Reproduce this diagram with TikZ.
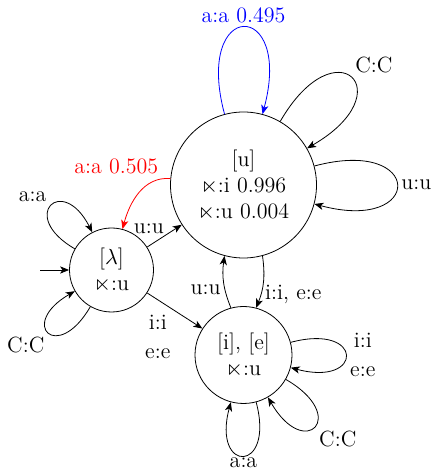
\documentclass[tikz,border=0pt]{standalone}
\usepackage{amsmath,amssymb}
\usetikzlibrary{arrows.meta,positioning}

\begin{document}
\begin{tikzpicture}[
    on grid,
    estado/.style={draw, circle, align=center, inner sep=0pt, font=\fontsize{11}{13}\selectfont},
    rotulo/.style={align=center, inner sep=2pt, font=\fontsize{11}{12.5}\selectfont},
    seta/.style={-{Stealth[length=4.5pt, width=3.6pt, inset=1.2pt]}},
    laco/.style={seta, distance=#1}
  ]
    \useasboundingbox (-55.75pt,135pt) rectangle (162.75pt,-102pt);

    \node[estado, minimum size=42pt] (lambda) {[$\lambda$]\\$\ltimes$:u};
    \node[estado, minimum size=73pt, above right=42.5pt and 66pt of lambda] (u) {[u]\\$\ltimes$:i 0.996\\$\ltimes$:u 0.004};
    \node[estado, minimum size=48.5pt, below=85pt of u] (ie) {[i], [e]\\$\ltimes$:u};
    \coordinate[left=35.75pt of lambda] (inicio);

    \draw[seta] (inicio) -- (lambda);
    \draw[laco=33pt] (lambda) to[out=150, in=117] node[rotulo, above left] {a:a} (lambda);
    \draw[laco=33pt] (lambda) to[out=240, in=210] node[rotulo, below left] {C:C} (lambda);
    \draw[seta] (lambda) -- node[rotulo, pos=0.05, above=4pt] {u:u} (u);
    \draw[seta] (lambda) -- node[rotulo, below left] {i:i\\[2pt]e:e} (ie);

    \draw[laco=60pt, blue] (u) to[out=105, in=75] node[rotulo, above] {a:a 0.495} (u);
    \draw[laco=56pt] (u) to[out=60, in=30] node[rotulo, above right] {C:C} (u);
    \draw[laco=57pt] (u) to[out=15, in=-15] node[rotulo, right] {u:u} (u);
    \draw[seta, red] (u) to[out=175, in=75] node[rotulo, pos=0.1, above left] {a:a 0.505} (lambda);
    \draw[seta] (u) to[bend left=15] node[rotulo, pos=0.75, right] {i:i, e:e} (ie);

    \draw[seta] (ie) to[bend left=15] node[rotulo, pos=0.35, left] {u:u} (u);
    \draw[laco=38pt] (ie) to[out=15, in=-15] node[rotulo, right] {i:i\\[2pt]e:e} (ie);
    \draw[laco=37pt] (ie) to[out=-30, in=-60] node[rotulo, below right] {C:C} (ie);
    \draw[laco=37pt] (ie) to[out=-75, in=-105] node[rotulo, below, inner sep=0.5pt] {a:a} (ie);
  \end{tikzpicture}
\end{document}
